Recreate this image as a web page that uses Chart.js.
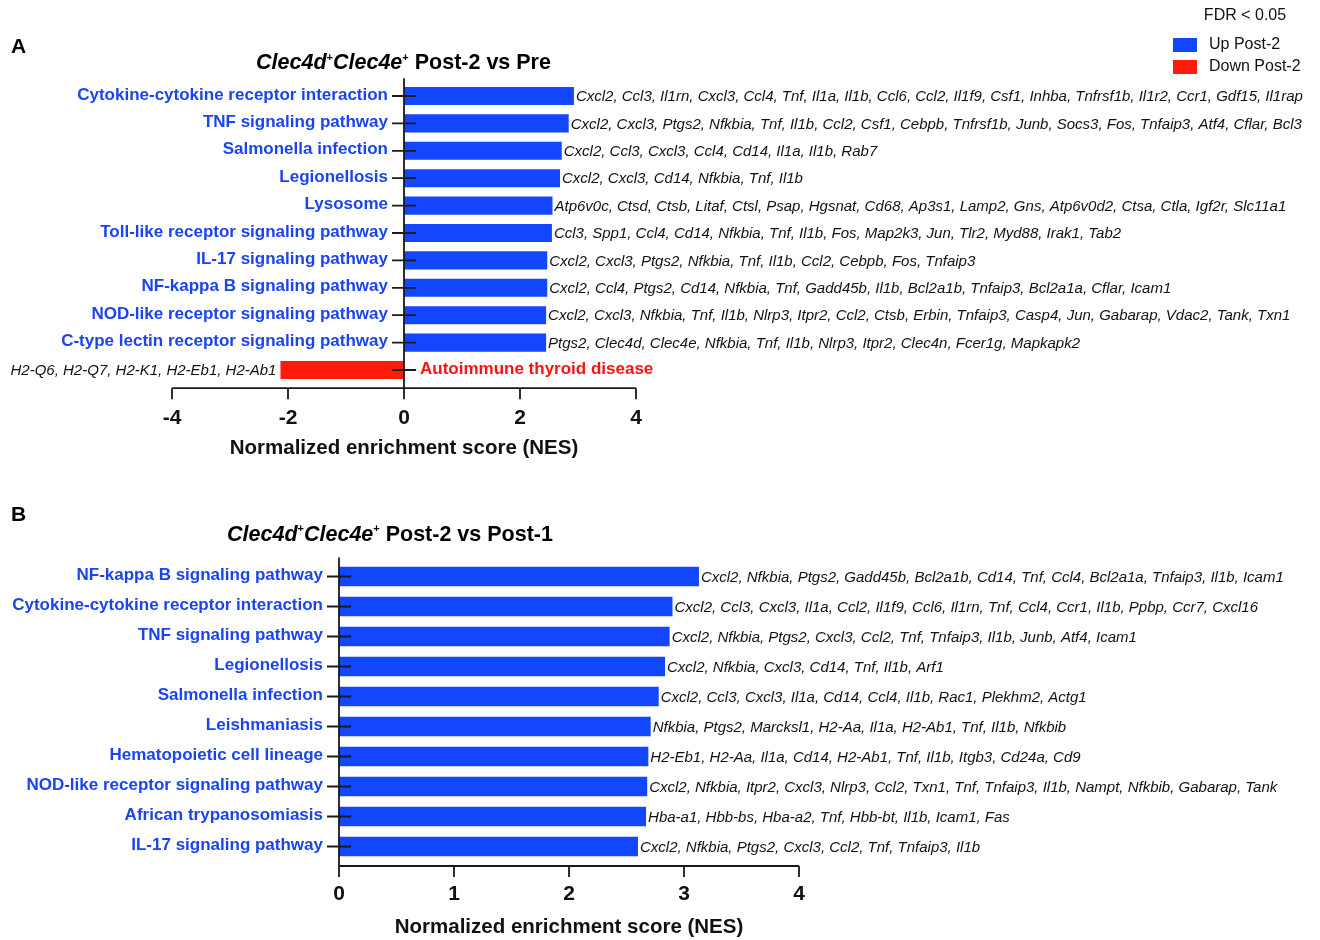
<!DOCTYPE html>
<html>
<head>
<meta charset="utf-8">
<script src="https://cdn.jsdelivr.net/npm/chart.js@4.4.1/dist/chart.umd.min.js"></script>
<style>
  body { margin: 0; background: #fff; }
  .panel { position: absolute; left: 0; width: 1320px; height: 470px; }
  #wrapA { top: 0; }
  #wrapB { top: 470px; }
</style>
</head>
<body>
<div class="panel" id="wrapA"><canvas id="chartA" width="1320" height="470"></canvas></div>
<div class="panel" id="wrapB"><canvas id="chartB" width="1320" height="470"></canvas></div>
<script>
// Panel A : Post-2 vs Pre
const categoriesA = [
  'Cytokine-cytokine receptor interaction',
  'TNF signaling pathway',
  'Salmonella infection',
  'Legionellosis',
  'Lysosome',
  'Toll-like receptor signaling pathway',
  'IL-17 signaling pathway',
  'NF-kappa B signaling pathway',
  'NOD-like receptor signaling pathway',
  'C-type lectin receptor signaling pathway',
  'Autoimmune thyroid disease'
];
const nesA = [2.93, 2.84, 2.72, 2.69, 2.56, 2.55, 2.47, 2.47, 2.45, 2.45, -2.13];
const genesA = [
  'Cxcl2, Ccl3, Il1rn, Cxcl3, Ccl4, Tnf, Il1a, Il1b, Ccl6, Ccl2, Il1f9, Csf1, Inhba, Tnfrsf1b, Il1r2, Ccr1, Gdf15, Il1rap',
  'Cxcl2, Cxcl3, Ptgs2, Nfkbia, Tnf, Il1b, Ccl2, Csf1, Cebpb, Tnfrsf1b, Junb, Socs3, Fos, Tnfaip3, Atf4, Cflar, Bcl3',
  'Cxcl2, Ccl3, Cxcl3, Ccl4, Cd14, Il1a, Il1b, Rab7',
  'Cxcl2, Cxcl3, Cd14, Nfkbia, Tnf, Il1b',
  'Atp6v0c, Ctsd, Ctsb, Litaf, Ctsl, Psap, Hgsnat, Cd68, Ap3s1, Lamp2, Gns, Atp6v0d2, Ctsa, Ctla, Igf2r, Slc11a1',
  'Ccl3, Spp1, Ccl4, Cd14, Nfkbia, Tnf, Il1b, Fos, Map2k3, Jun, Tlr2, Myd88, Irak1, Tab2',
  'Cxcl2, Cxcl3, Ptgs2, Nfkbia, Tnf, Il1b, Ccl2, Cebpb, Fos, Tnfaip3',
  'Cxcl2, Ccl4, Ptgs2, Cd14, Nfkbia, Tnf, Gadd45b, Il1b, Bcl2a1b, Tnfaip3, Bcl2a1a, Cflar, Icam1',
  'Cxcl2, Cxcl3, Nfkbia, Tnf, Il1b, Nlrp3, Itpr2, Ccl2, Ctsb, Erbin, Tnfaip3, Casp4, Jun, Gabarap, Vdac2, Tank, Txn1',
  'Ptgs2, Clec4d, Clec4e, Nfkbia, Tnf, Il1b, Nlrp3, Itpr2, Clec4n, Fcer1g, Mapkapk2',
  'H2-Q6, H2-Q7, H2-K1, H2-Eb1, H2-Ab1'
];
const ticksA = [-4, -2, 0, 2, 4];

// Panel B : Post-2 vs Post-1
const categoriesB = [
  'NF-kappa B signaling pathway',
  'Cytokine-cytokine receptor interaction',
  'TNF signaling pathway',
  'Legionellosis',
  'Salmonella infection',
  'Leishmaniasis',
  'Hematopoietic cell lineage',
  'NOD-like receptor signaling pathway',
  'African trypanosomiasis',
  'IL-17 signaling pathway'
];
const nesB = [3.13, 2.90, 2.875, 2.835, 2.78, 2.71, 2.69, 2.68, 2.67, 2.60];
const genesB = [
  'Cxcl2, Nfkbia, Ptgs2, Gadd45b, Bcl2a1b, Cd14, Tnf, Ccl4, Bcl2a1a, Tnfaip3, Il1b, Icam1',
  'Cxcl2, Ccl3, Cxcl3, Il1a, Ccl2, Il1f9, Ccl6, Il1rn, Tnf, Ccl4, Ccr1, Il1b, Ppbp, Ccr7, Cxcl16',
  'Cxcl2, Nfkbia, Ptgs2, Cxcl3, Ccl2, Tnf, Tnfaip3, Il1b, Junb, Atf4, Icam1',
  'Cxcl2, Nfkbia, Cxcl3, Cd14, Tnf, Il1b, Arf1',
  'Cxcl2, Ccl3, Cxcl3, Il1a, Cd14, Ccl4, Il1b, Rac1, Plekhm2, Actg1',
  'Nfkbia, Ptgs2, Marcksl1, H2-Aa, Il1a, H2-Ab1, Tnf, Il1b, Nfkbib',
  'H2-Eb1, H2-Aa, Il1a, Cd14, H2-Ab1, Tnf, Il1b, Itgb3, Cd24a, Cd9',
  'Cxcl2, Nfkbia, Itpr2, Cxcl3, Nlrp3, Ccl2, Txn1, Tnf, Tnfaip3, Il1b, Nampt, Nfkbib, Gabarap, Tank',
  'Hba-a1, Hbb-bs, Hba-a2, Tnf, Hbb-bt, Il1b, Icam1, Fas',
  'Cxcl2, Nfkbia, Ptgs2, Cxcl3, Ccl2, Tnf, Tnfaip3, Il1b'
];
const ticksB = [0, 1, 2, 3, 4];

const legendTitle = 'FDR < 0.05';
const legendLabels = ['Up Post-2', 'Down Post-2'];

const FONT = '"Liberation Sans", Arial, Helvetica, sans-serif';
const BLUE = '#1246ff';
const RED = '#ff1a0a';
const BLUE_TXT = '#1a44f2';
const RED_TXT = '#ff1111';
const INK = '#111';

// titre avec exposants "+"
function drawTitle(ctx, parts, cx, cy) {
  let total = 0;
  parts.forEach(p => { ctx.font = p.font; p.w = ctx.measureText(p.t).width; total += p.w; });
  let x = cx - total / 2;
  ctx.textAlign = 'left';
  ctx.textBaseline = 'middle';
  ctx.fillStyle = '#000';
  parts.forEach(p => {
    ctx.font = p.font;
    ctx.fillText(p.t, x, cy + (p.sup ? -6 : 0));
    x += p.w;
  });
}

function titleParts(rest) {
  return [
    { t: 'Clec4d', font: 'italic bold 21.5px ' + FONT },
    { t: '+', font: 'bold 11px ' + FONT, sup: true },
    { t: 'Clec4e', font: 'italic bold 21.5px ' + FONT },
    { t: '+', font: 'bold 11px ' + FONT, sup: true },
    { t: rest, font: 'bold 21.5px ' + FONT }
  ];
}

function annotate(cfg) {
  return {
    id: 'annot',
    afterDatasetsDraw(chart) {
      const ctx = chart.ctx, xs = chart.scales.x, ys = chart.scales.y, area = chart.chartArea;
      const x0 = xs.getPixelForValue(0);
      const axisY = area.bottom + 4.5;
      ctx.save();
      ctx.strokeStyle = '#1a1a1a';
      ctx.lineWidth = 1.8;
      ctx.beginPath();
      // axe x + graduations
      ctx.moveTo(xs.getPixelForValue(xs.min), axisY);
      ctx.lineTo(xs.getPixelForValue(xs.max), axisY);
      xs.ticks.forEach(t => {
        const px = xs.getPixelForValue(t.value);
        ctx.moveTo(px, axisY);
        ctx.lineTo(px, axisY + 11);
      });
      // axe vertical en 0
      ctx.moveTo(x0, area.top - 4);
      ctx.lineTo(x0, axisY);
      // petites croix de catégories
      cfg.labels.forEach((_, i) => {
        const py = ys.getPixelForValue(i);
        ctx.moveTo(x0 - 12, py);
        ctx.lineTo(x0 + 12, py);
      });
      ctx.stroke();

      ctx.textBaseline = 'middle';
      cfg.labels.forEach((lab, i) => {
        const v = cfg.values[i];
        const py = ys.getPixelForValue(i);
        const xe = xs.getPixelForValue(v);
        ctx.font = 'bold 17px ' + FONT;
        if (v >= 0) {
          ctx.fillStyle = BLUE_TXT; ctx.textAlign = 'right';
          ctx.fillText(lab, x0 - 16, py - 1);
        } else {
          ctx.fillStyle = RED_TXT; ctx.textAlign = 'left';
          ctx.fillText(lab, x0 + 16, py - 1);
        }
        ctx.font = 'italic 15px ' + FONT;
        ctx.fillStyle = INK;
        if (v >= 0) {
          ctx.textAlign = 'left';
          ctx.fillText(cfg.genes[i], xe + 2, py + 1);
        } else {
          ctx.textAlign = 'right';
          ctx.fillText(cfg.genes[i], xe - 4, py + 1);
        }
      });

      drawTitle(ctx, cfg.title, cfg.titleX, cfg.titleY);

      ctx.font = 'bold 21px ' + FONT;
      ctx.textAlign = 'left';
      ctx.fillStyle = '#000';
      ctx.fillText(cfg.letter, 11, cfg.letterY);

      if (cfg.legend) {
        ctx.font = '16px ' + FONT;
        ctx.fillStyle = INK;
        ctx.textAlign = 'center';
        ctx.fillText(legendTitle, 1245, 16);
        [BLUE, RED].forEach((c, k) => {
          ctx.fillStyle = c;
          ctx.fillRect(1173, 38 + k * 22, 24, 14);
          ctx.fillStyle = INK;
          ctx.textAlign = 'left';
          ctx.fillText(legendLabels[k], 1209, 45 + k * 22);
        });
      }
      ctx.restore();
    }
  };
}

function makeChart(id, cfg) {
  return new Chart(document.getElementById(id), {
    type: 'bar',
    data: {
      labels: cfg.labels,
      datasets: [{
        data: cfg.values,
        backgroundColor: cfg.values.map(v => v >= 0 ? BLUE : RED),
        borderWidth: 0,
        barPercentage: cfg.barPct,
        categoryPercentage: 1
      }]
    },
    options: {
      responsive: false,
      animation: false,
      indexAxis: 'y',
      layout: { padding: cfg.padding },
      plugins: { legend: { display: false }, tooltip: { enabled: false } },
      scales: {
        y: { display: false },
        x: {
          min: cfg.ticks[0],
          max: cfg.ticks[cfg.ticks.length - 1],
          afterBuildTicks: s => { s.ticks = cfg.ticks.map(v => ({ value: v })); },
          afterFit: s => { s.height = cfg.scaleH; },
          grid: { display: false, drawTicks: false },
          border: { display: false },
          ticks: { font: { family: FONT, size: 21, weight: 'bold' }, color: INK, padding: cfg.tickPad },
          title: {
            display: true,
            text: 'Normalized enrichment score (NES)',
            font: { family: FONT, size: 20.5, weight: 'bold' },
            color: INK,
            padding: 0
          }
        }
      }
    },
    plugins: [annotate(cfg)]
  });
}

makeChart('chartA', {
  labels: categoriesA, values: nesA, genes: genesA, ticks: ticksA,
  barPct: 0.66,
  padding: { left: 172, right: 684, top: 82.3, bottom: 9.7 },
  scaleH: 76.6, tickPad: 21.5,
  title: titleParts(' Post-2 vs Pre'), titleX: 403.5, titleY: 63.5,
  letter: 'A', letterY: 47, legend: true
});

makeChart('chartB', {
  labels: categoriesB, values: nesB, genes: genesB, ticks: ticksB,
  barPct: 0.65,
  padding: { left: 339, right: 521, top: 91.5, bottom: 0.7 },
  scaleH: 77.8, tickPad: 20.5,
  title: titleParts(' Post-2 vs Post-1'), titleX: 390, titleY: 65,
  letter: 'B', letterY: 45, legend: false
});
</script>
</body>
</html>
